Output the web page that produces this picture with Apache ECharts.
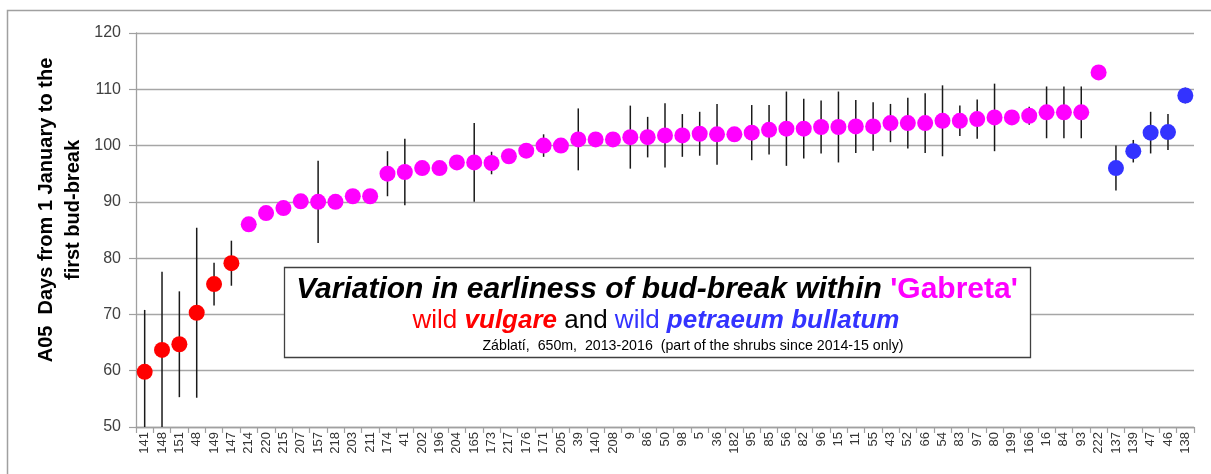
<!DOCTYPE html>
<html>
<head>
<meta charset="utf-8">
<script src="https://cdn.jsdelivr.net/npm/echarts@6/dist/echarts.min.js"></script>
<style>
  html, body { margin: 0; padding: 0; background: #fff; }
  #chart { width: 1211px; height: 474px; }
</style>
</head>
<body>
<div id="chart"></div>
<script>
// ---- data ----
const categories = ['141','148','151','48','149','147','214','220','215','207','157','218','203','211','174','41','202','196','204','165','173','217','176','171','205','39','140','208','9','86','50','98','5','36','182','95','85','56','82','96','15','11','55','43','52','66','54','83','97','80','199','166','16','84','93','222','137','139','47','46','138'];
const values = [59.8,63.7,64.7,70.3,75.4,79.1,86.0,88.0,88.9,90.1,90.0,90.0,91.0,91.0,95.0,95.3,96.0,96.0,97.0,97.0,96.9,98.1,99.1,100.0,100.0,101.1,101.1,101.1,101.5,101.5,101.8,101.8,102.1,102.0,102.0,102.3,102.8,103.0,103.0,103.3,103.3,103.4,103.4,104.0,104.0,104.0,104.4,104.4,104.7,105.0,105.0,105.3,105.9,105.9,105.9,113.0,96.0,99.0,102.3,102.4,108.9];
const errors = [11.0,13.9,9.4,15.1,3.8,4.0,0,0,0,0,7.3,0,0,0,4.0,5.9,0,0,0,7.0,2.0,0,0,2.0,0,5.5,0,0,5.6,3.6,5.7,3.8,3.9,5.4,0,4.9,4.4,6.6,5.3,4.7,6.3,4.7,4.3,3.4,4.5,5.3,6.3,2.7,3.5,6.0,0,1.6,4.6,4.6,4.6,0,4.0,2.0,3.7,3.2,1.4];
const groups = ['v','v','v','v','v','v','g','g','g','g','g','g','g','g','g','g','g','g','g','g','g','g','g','g','g','g','g','g','g','g','g','g','g','g','g','g','g','g','g','g','g','g','g','g','g','g','g','g','g','g','g','g','g','g','g','g','p','p','p','p','p'];
const yTicks = { min: 50, max: 120, interval: 10 };

// ---- build ----
const FONT = '"Liberation Sans", Arial, sans-serif';
const RED = '#ff0000', MAG = '#ff00ff', BLUE = '#3333ff';
function groupData(g) {
  return values.map((v, i) => groups[i] === g ? v : '-');
}
const errData = [];
values.forEach((v, i) => { if (errors[i] > 0) errData.push([i, v - errors[i], v + errors[i]]); });

const chart = echarts.init(document.getElementById('chart'), null, { renderer: 'canvas' });
const option = {
  animation: false,
  backgroundColor: '#ffffff',
  grid: { left: 136, right: 17, top: 33, bottom: 47, containLabel: false },
  xAxis: {
    type: 'category',
    data: categories,
    boundaryGap: true,
    axisLine: { show: true, lineStyle: { color: '#a0a0a0', width: 1.3 } },
    axisTick: { show: true, interval: 0, length: 6, lineStyle: { color: '#a0a0a0', width: 1.2 } },
    axisLabel: { interval: 0, rotate: 90, margin: 5, fontSize: 13, color: '#333333', fontFamily: FONT },
    splitLine: { show: false }
  },
  yAxis: {
    type: 'value',
    min: yTicks.min, max: yTicks.max, interval: yTicks.interval,
    axisLine: { show: true, lineStyle: { color: '#a0a0a0', width: 1.3 } },
    axisTick: { show: true, length: 7, lineStyle: { color: '#a0a0a0', width: 1.2 } },
    axisLabel: { fontSize: 16, color: '#404040', margin: 15, fontFamily: FONT },
    splitLine: { show: true, lineStyle: { color: '#a6a6a6', width: 1.3 } }
  },
  series: [
    {
      type: 'custom',
      name: 'err',
      data: errData,
      z: 1,
      renderItem: function (params, api) {
        const i = api.value(0);
        const lo = api.coord([i, api.value(1)]);
        const hi = api.coord([i, api.value(2)]);
        const cs = params.coordSys;
        const yBottom = cs.y + cs.height, yTop = cs.y;
        return {
          type: 'line',
          shape: { x1: lo[0], y1: Math.min(lo[1], yBottom), x2: hi[0], y2: Math.max(hi[1], yTop) },
          style: { stroke: '#1a1a1a', lineWidth: 1.5 }
        };
      }
    },
    { type: 'scatter', name: 'vulgare', data: groupData('v'), symbol: 'circle', symbolSize: 16, itemStyle: { color: RED, opacity: 1 }, z: 3 },
    { type: 'scatter', name: 'Gabreta', data: groupData('g'), symbol: 'circle', symbolSize: 16, itemStyle: { color: MAG, opacity: 1 }, z: 3 },
    { type: 'scatter', name: 'petraeum bullatum', data: groupData('p'), symbol: 'circle', symbolSize: 16, itemStyle: { color: BLUE, opacity: 1 }, z: 3 }
  ],
  graphic: [
    {
      type: 'rect', silent: true, z: 0,
      shape: { x: 7.5, y: 10.5, width: 1230, height: 500 },
      style: { fill: 'none', stroke: '#a0a0a0', lineWidth: 1.5 }
    },
    {
      type: 'text', silent: true, z: 10,
      x: 60, y: 210, rotation: Math.PI / 2,
      style: {
        text: 'A05  Days from 1 January to the\nfirst bud-break',
        align: 'center', verticalAlign: 'middle',
        fontSize: 20, fontWeight: 'bold', fontFamily: FONT, fill: '#000000', lineHeight: 27
      }
    },
    {
      type: 'rect', silent: true, z: 10,
      shape: { x: 284.5, y: 267.5, width: 746, height: 90 },
      style: { fill: '#ffffff', stroke: '#404040', lineWidth: 1.3 }
    },
    {
      type: 'text', silent: true, z: 11,
      x: 657, y: 290,
      style: {
        text: "{a|Variation in earliness of bud-break within }{b|'Gabreta'}",
        align: 'center', verticalAlign: 'middle',
        rich: {
          a: { fontSize: 30, fontWeight: 'bold', fontStyle: 'italic', fontFamily: FONT, fill: '#000000' },
          b: { fontSize: 30, fontWeight: 'bold', fontFamily: FONT, fill: MAG }
        }
      }
    },
    {
      type: 'text', silent: true, z: 11,
      x: 656, y: 321,
      style: {
        text: '{r|wild }{rb|vulgare}{k| and }{bl|wild }{bb|petraeum bullatum}',
        align: 'center', verticalAlign: 'middle',
        rich: {
          r: { fontSize: 26, fontFamily: FONT, fill: RED },
          rb: { fontSize: 26, fontWeight: 'bold', fontStyle: 'italic', fontFamily: FONT, fill: RED },
          k: { fontSize: 26, fontFamily: FONT, fill: '#000000' },
          bl: { fontSize: 26, fontFamily: FONT, fill: BLUE },
          bb: { fontSize: 26, fontWeight: 'bold', fontStyle: 'italic', fontFamily: FONT, fill: BLUE }
        }
      }
    },
    {
      type: 'text', silent: true, z: 11,
      x: 693, y: 346,
      style: {
        text: 'Záblatí,  650m,  2013-2016  (part of the shrubs since 2014-15 only)',
        align: 'center', verticalAlign: 'middle',
        fontSize: 14.2, fontFamily: FONT, fill: '#000000'
      }
    }
  ]
};
chart.setOption(option);
</script>
</body>
</html>
